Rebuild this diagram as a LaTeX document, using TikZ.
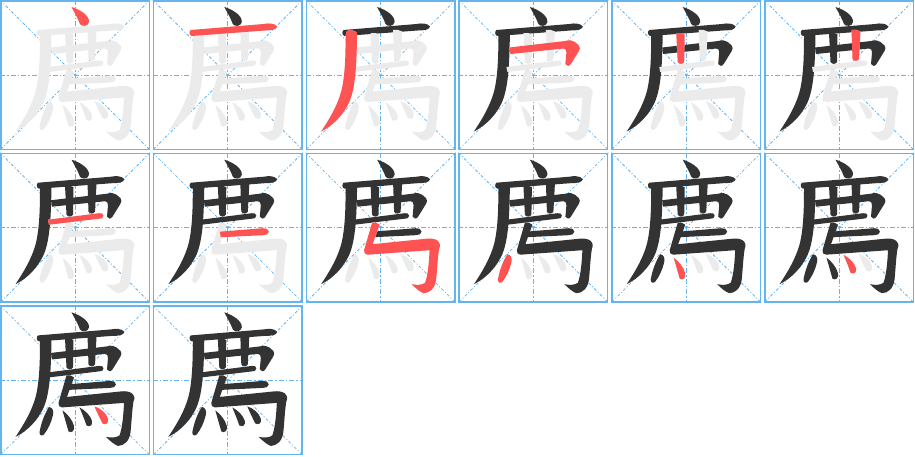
\documentclass[tikz,border=0pt]{standalone}
\usepackage{tikz}
\definecolor{grid-blue}{RGB}{100,180,240}
\definecolor{ink-dark}{RGB}{51,51,51}
\definecolor{ink-red}{RGB}{255,82,82}
\definecolor{ink-gray}{RGB}{235,235,235}

\begin{document}
\begin{tikzpicture} [ % 格子和笔画的样式
            x=1pt, y=-1pt,
            cell-box/.style = {draw=grid-blue, line width=1.5pt},
            cell-mid/.style = {draw=grid-blue, line width=0.9pt, dash pattern=on 5pt off 2pt on 1.5pt off 2pt},
            cell-diag/.style = {draw=grid-blue, line width=0.8pt, dash pattern=on 3pt off 2pt on 1pt off 2pt}
        ]

        % 宏
        \pgfmathsetmacro{\dx}{152.8}; % 格子横向间距
        \pgfmathsetmacro{\dy}{152.7}; % 格子纵向间距

        % 笔画 (格子内坐标, 0--150)
        \expandafter\def\csname bh1\endcsname{(71.5,7) .. controls (80,9.5) and (89.5,15.5) .. (89,22) .. controls (88.5,26.5) and (81.5,27) .. (80,24) .. controls (78,18.5) and (74.5,12.5) .. (71.5,7) -- cycle}
        \expandafter\def\csname bh2\endcsname{(38,30) -- (111,24) .. controls (116,23) and (121.5,23) .. (124.5,26.5) .. controls (123.5,30) and (118,30.5) .. (112,30.5) -- (39,36) .. controls (36.5,35.5) and (36,31.5) .. (38,30) -- cycle}
        \expandafter\def\csname bh3\endcsname{(43.5,30) .. controls (47,30) and (51.5,31.5) .. (51.5,34) .. controls (51,60) and (50.5,88) .. (43,103.5) .. controls (37,115.5) and (27.5,125.5) .. (15.5,131.5) .. controls (22.5,121) and (32,106) .. (36,90) .. controls (39.5,75) and (40,55) .. (40,36) .. controls (40,33) and (41,30) .. (43.5,30) -- cycle}
        \expandafter\def\csname bh4\endcsname{(51,47.5) -- (107,41) .. controls (111,40) and (114,40) .. (116.5,42) -- (120.5,45.5) .. controls (122,47) and (121.5,49.5) .. (120.5,51) -- (112.5,64) .. controls (111,66.5) and (108,66.5) .. (107,64) -- (108,52.5) .. controls (108,50) and (107,48.5) .. (105,48.5) -- (52,54) -- cycle}
        \expandafter\def\csname bh5\endcsname{(65,33) .. controls (68,32.5) and (71.5,33) .. (73.5,34.5) -- (73,62) .. controls (71.5,64.5) and (68,64.5) .. (66.5,62) -- cycle}
        \expandafter\def\csname bh6\endcsname{(87.5,30) .. controls (91,29.5) and (94.5,30) .. (96.5,31.5) -- (95,59) .. controls (93.5,61.5) and (90,61.5) .. (88.5,59) -- cycle}
        \expandafter\def\csname bh7\endcsname{(48,67) -- (99,60.5) .. controls (101.5,60) and (103.5,61) .. (103.5,63) .. controls (103.5,65.5) and (101.5,66) .. (99,66) -- (49,72) -- cycle}
        \expandafter\def\csname bh8\endcsname{(67,79) -- (110,75.5) .. controls (113,75) and (116,76.5) .. (116,79) .. controls (116,81.5) and (113,82.5) .. (110,82.5) -- (68,84.5) -- cycle}
        \expandafter\def\csname bh9\endcsname{(66.5,70) .. controls (69,69.5) and (72.5,70) .. (74,72) -- (67,91.5) -- (121,86) .. controls (125,85.5) and (129.5,86) .. (132,88) .. controls (134.5,90.5) and (135,93) .. (133.5,96) .. controls (132,105) and (131.5,118) .. (130.5,127) .. controls (129.5,135.5) and (124,140.5) .. (118,140.5) .. controls (114,139) and (110,135.5) .. (106,131.5) .. controls (111,132.5) and (116.5,132.5) .. (119.5,130) .. controls (122.5,122) and (123.5,108) .. (124,97.5) -- (62,102) .. controls (59.5,102) and (58,100) .. (58.5,97.5) -- cycle}
        \expandafter\def\csname bh10\endcsname{(49,101.5) .. controls (52.5,102) and (54,105.5) .. (53,109.5) .. controls (51.5,116.5) and (48,124) .. (44,129) .. controls (42,131) and (39.5,130) .. (39.5,127) .. controls (41,118) and (44.5,108.5) .. (49,101.5) -- cycle}
        \expandafter\def\csname bh11\endcsname{(62.5,105) .. controls (67,108) and (72.5,114.5) .. (74,120.5) .. controls (75,125.5) and (71.5,128) .. (68.5,126) .. controls (66.5,119) and (64.5,112) .. (62.5,105) -- cycle}
        \expandafter\def\csname bh12\endcsname{(79.5,102) .. controls (85,105) and (90.5,110) .. (92,115.5) .. controls (93,120) and (89.5,122) .. (86.5,120) .. controls (84.5,114) and (82,108) .. (79.5,102) -- cycle}
        \expandafter\def\csname bh13\endcsname{(94.5,101) .. controls (101,103) and (106.5,108) .. (108,113.5) .. controls (109,118) and (105.5,120) .. (102.5,118) .. controls (99.5,112) and (97,107) .. (94.5,101) -- cycle}

        \useasboundingbox (0,0) rectangle (915,456);

        % 14 个格子, 第 n 格写到第 n 笔
        \foreach \n in {1,...,14} {
            \pgfmathtruncatemacro{\cx}{mod(\n-1,6)}
            \pgfmathtruncatemacro{\cy}{div(\n-1,6)}
            \begin{scope}[shift={(\cx*\dx,\cy*\dy)}]
                % 米字格
                \draw [cell-diag] (0,0) -- (150,150) (150,0) -- (0,150);
                \draw [cell-mid] (0,75) -- (150,75) (75,0) -- (75,150);
                \draw [cell-box] (0.75,0.75) rectangle (149.25,149.25);
                % 已写的深色, 未写的浅灰
                \foreach \s in {1,...,13} {
                    \ifnum\s<\n \def\bhcolor{ink-dark}\else\def\bhcolor{ink-gray}\fi
                    \edef\bhpath{\noexpand\fill[\bhcolor] \csname bh\s\endcsname;}
                    \bhpath
                }
                % 当前一笔 红色
                \ifnum\n<14
                    \edef\bhpath{\noexpand\fill[ink-red] \csname bh\n\endcsname;}
                    \bhpath
                \fi
            \end{scope}
        }

    \end{tikzpicture}
\end{document}
